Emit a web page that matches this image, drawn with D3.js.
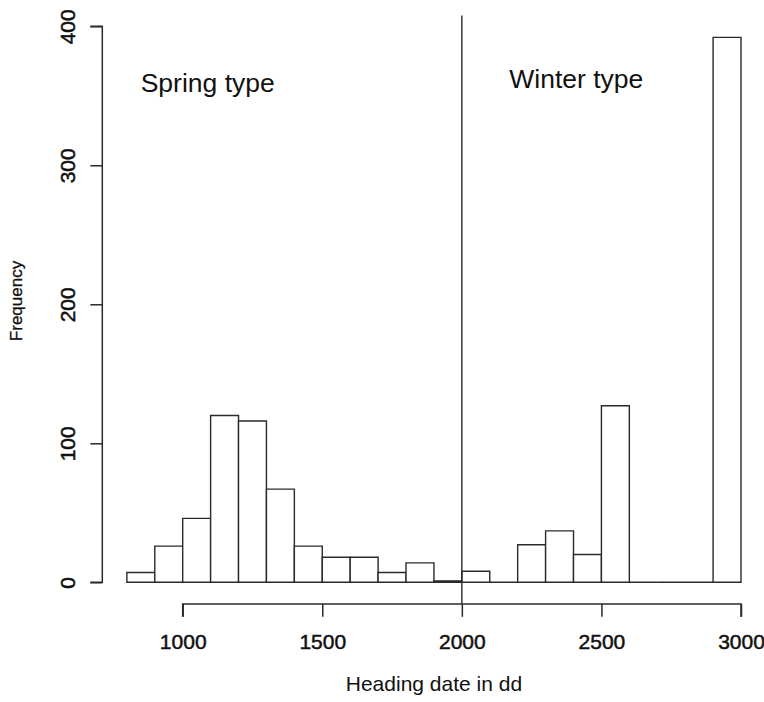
<!DOCTYPE html>
<html>
<head>
<meta charset="utf-8">
<script src="https://cdn.jsdelivr.net/npm/d3@7"></script>
<style>
  body { margin: 0; background: #fff; }
  svg text { font-family: "Liberation Sans", Arial, sans-serif; fill: #111; }
</style>
</head>
<body>
<div id="chart"></div>
<script>
  ///
  /// Data (bin start, bin width 100)
  ///
  var binStarts = [800, 900, 1000, 1100, 1200, 1300, 1400, 1500, 1600, 1700, 1800, 1900,
                   2000, 2100, 2200, 2300, 2400, 2500, 2600, 2700, 2800, 2900];
  var counts    = [7, 26, 46, 120, 116, 67, 26, 18, 18, 7, 14, 1,
                   8, 0, 27, 37, 20, 127, 0, 0, 0, 392];
  var binWidth = 100;
  var xTicks = [1000, 1500, 2000, 2500, 3000];
  var yTicks = [0, 100, 200, 300, 400];
  var splitAt = 2000;

  var width = 764, height = 702;
  var ink = "#2a2a2a";

  var svg = d3.select("#chart").append("svg")
    .attr("width", width)
    .attr("height", height);

  var x = d3.scaleLinear().domain([1000, 3000]).range([182.7, 741]);
  var y = d3.scaleLinear().domain([0, 400]).range([582.3, 26.3]);

  // plot region, R style: 4% padding on each side
  var xLo = 800 - 0.04 * 2200, xHi = 3000 + 0.04 * 2200;
  var yLo = -0.04 * 392, yHi = 392 * 1.04;

  ///
  /// Bars
  ///
  svg.append("g").selectAll("path")
    .data(binStarts.map((b, i) => ({ x0: b, x1: b + binWidth, n: counts[i] })))
    .join("path")
      .attr("d", d => {
        var p = d3.path();
        p.moveTo(x(d.x0), y(0));
        p.lineTo(x(d.x0), y(d.n));
        p.lineTo(x(d.x1), y(d.n));
        p.lineTo(x(d.x1), y(0));
        p.closePath();
        return p.toString();
      })
      .attr("fill", "#fff")
      .attr("stroke", ink)
      .attr("stroke-width", 1.4);

  ///
  /// Split line
  ///
  svg.append("line")
    .attr("x1", x(splitAt)).attr("x2", x(splitAt))
    .attr("y1", y(yHi)).attr("y2", y(yLo))
    .attr("stroke", ink)
    .attr("stroke-width", 1.4);

  ///
  /// Axes
  ///
  var xAxis = d3.axisBottom(x).tickValues(xTicks).tickSize(12.7).tickPadding(14)
    .tickFormat(d3.format("d"));
  var gx = svg.append("g")
    .attr("transform", "translate(0," + y(yLo) + ")")
    .call(xAxis);
  gx.select(".domain").attr("d", "M" + x(1000) + ",12.7V0H" + x(3000) + "V12.7");

  var yAxis = d3.axisLeft(y).tickValues(yTicks).tickSize(12).tickPadding(0)
    .tickFormat(d3.format("d"));
  var gy = svg.append("g")
    .attr("transform", "translate(" + x(xLo) + ",0)")
    .call(yAxis);
  gy.select(".domain").attr("d", "M-12," + y(0) + "H0V" + y(400) + "H-12");

  [gx, gy].forEach(g => {
    g.selectAll(".domain, .tick line").attr("stroke", ink).attr("stroke-width", 1.5);
    g.selectAll("text")
      .style("font-family", "'Liberation Sans', Arial, sans-serif")
      .style("font-size", "21px")
      .attr("fill", "#111")
      .attr("stroke", "#111")
      .attr("stroke-width", 0.5);
  });

  gx.selectAll(".tick text").attr("dy", null).attr("y", 0)
    .attr("transform", "translate(0,44.5)");

  gy.selectAll(".tick text")
    .attr("x", null).attr("dy", null)
    .attr("text-anchor", "middle")
    .attr("transform", "translate(-27.3,0) rotate(-90)");

  ///
  /// Labels
  ///
  svg.append("text")
    .attr("x", x((xLo + xHi) / 2))
    .attr("y", 691)
    .attr("text-anchor", "middle")
    .style("font-size", "21px")
    .text("Heading date in dd");

  svg.append("text")
    .attr("transform", "translate(21.5,301) rotate(-90)")
    .attr("text-anchor", "middle")
    .style("font-size", "17px")
    .attr("stroke", "#111")
    .attr("stroke-width", 0.3)
    .text("Frequency");

  svg.append("text")
    .attr("x", 140.7).attr("y", 92)
    .style("font-size", "26.5px")
    .text("Spring type");

  svg.append("text")
    .attr("x", 509.3).attr("y", 87.5)
    .style("font-size", "26.5px")
    .text("Winter type");
</script>
</body>
</html>
